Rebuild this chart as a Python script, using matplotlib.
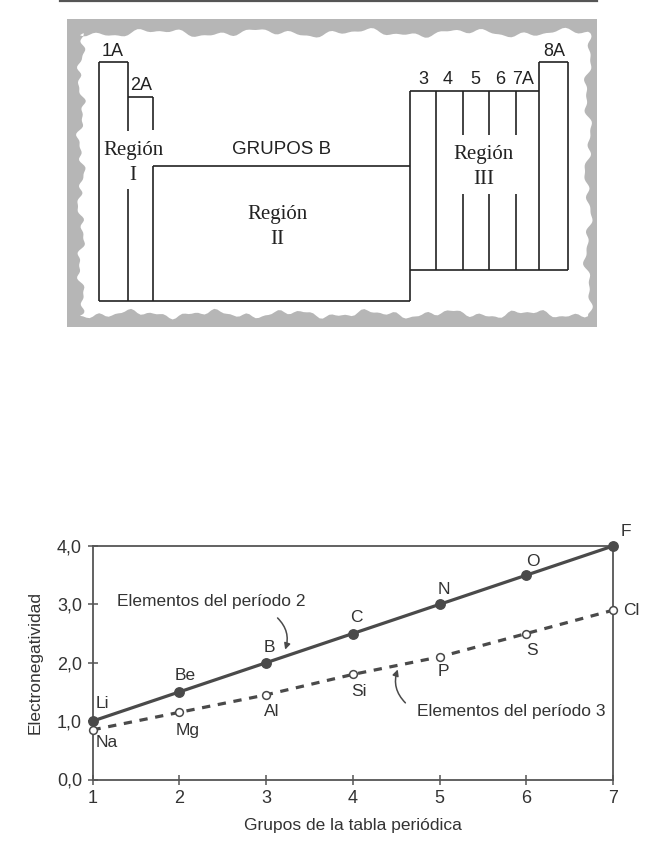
import numpy as np
import matplotlib
matplotlib.use("Agg")
import matplotlib.pyplot as plt

plt.rcParams['font.family'] = ['Liberation Sans', 'DejaVu Sans']

# chart data: electronegativity by group, periods 2 and 3
groups = [1, 2, 3, 4, 5, 6, 7]
period2_names = ['Li', 'Be', 'B', 'C', 'N', 'O', 'F']
period2_en = [1.0, 1.5, 2.0, 2.5, 3.0, 3.5, 4.0]
period3_names = ['Na', 'Mg', 'Al', 'Si', 'P', 'S', 'Cl']
period3_en = [0.85, 1.15, 1.45, 1.8, 2.1, 2.5, 2.9]
y_ticks = [0, 1, 2, 3, 4]
y_tick_labels = ['0,0', '1,0', '2,0', '3,0', '4,0']

# label offsets (pixels) for the element names
p2_offsets = [(10, 18), (6, 16), (3, 15), (4, 16), (4, 15), (7, 14), (13, 14)]
p3_offsets = [(14, -13), (8, -18), (6, -17), (6, -17), (4, -15), (6, -17), (18, 0)]

# table diagram labels
top_numbers = ['3', '4', '5', '6', '7A']
top_numbers_x = [423, 448, 475, 500, 523]

W, H = 658, 848
fig = plt.figure(figsize=(W / 100, H / 100), dpi=100)

# ---- periodic table sketch (pixel space) ----
ax0 = fig.add_axes([0, 0, 1, 1])
ax0.set_xlim(0, W)
ax0.set_ylim(H, 0)
ax0.axis('off')

ax0.plot([60, 597], [1, 1], color='#555555', lw=1.6)

# torn gray frame
gray = '#b6b6b6'
ax0.add_patch(plt.Rectangle((67, 19), 530, 308, color=gray, lw=0))
t = np.linspace(0, 1, 160)
def wob(k):
    return 2.5 * np.sin(k * 31 * t) + 1.8 * np.sin(k * 83 * t + 1.3) + 1.2 * np.sin(k * 149 * t + 0.4)
top = np.column_stack([80 + 508 * t, 33 + wob(1.0)])
right = np.column_stack([588 + wob(0.7), 33 + 281 * t])
bot = np.column_stack([588 - 508 * t, 314 + wob(1.3)])
left = np.column_stack([81 + wob(0.9), 314 - 281 * t])
inner = np.vstack([top, right, bot, left])
ax0.add_patch(plt.Polygon(inner, closed=True, color='white', lw=0))

lc = '#222222'
lw = 1.2
segs = [
    # 1A / 2A columns
    ([99, 99], [62, 301]), ([99, 127.5], [62, 62]),
    ([127.5, 127.5], [62, 131]), ([127.5, 127.5], [189, 301]),
    ([127.5, 153], [96.5, 96.5]),
    ([153, 153], [96.5, 130]), ([153, 153], [166, 301]),
    ([99, 410], [301, 301]),
    # region II
    ([153, 410], [166, 166]),
    # region III
    ([410, 410], [91, 301]), ([410, 539], [91, 91]), ([410, 568], [270, 270]),
    ([436, 436], [91, 270]),
    ([539, 539], [62, 270]), ([539, 568], [62, 62]), ([568, 568], [62, 270]),
]
for xs in [462.5, 488.5, 515.5]:
    segs.append(([xs, xs], [91, 135]))
    segs.append(([xs, xs], [194, 270]))
for xs, ys in segs:
    ax0.plot(xs, ys, color=lc, lw=lw, solid_capstyle='butt')

sans = dict(fontsize=13, color='#222222', ha='center', va='center')
serif = dict(fontsize=15, color='#222222', ha='center', va='center', family='Liberation Serif')
ax0.text(113, 51, '1A', **sans)
ax0.text(141, 85, '2A', **sans)
ax0.text(554, 52, '8A', **sans)
for lab, xx in zip(top_numbers, top_numbers_x):
    ax0.text(xx, 80, lab, **sans)
ax0.text(282, 150, 'GRUPOS B', fontsize=13.5, color='#222222', ha='center', va='center')
ax0.text(133, 150, 'Región', **serif)
ax0.text(133, 175, 'I', **serif)
ax0.text(277, 215, 'Región', **serif)
ax0.text(277, 239, 'II', **serif)
ax0.text(484, 155, 'Región', **serif)
ax0.text(484, 179, 'III', **serif)

# ---- electronegativity chart ----
x0, x1 = 92.5, 613
y_top, y_bot = 546, 779.5
ax = fig.add_axes([x0 / W, (H - y_bot) / H, (x1 - x0) / W, (y_bot - y_top) / H])
ax.set_xlim(1, 7)
ax.set_ylim(0, 4)
ax.patch.set_alpha(0)

dark = '#4a4a4a'
txt = '#333333'
ax.plot(groups, period2_en, color=dark, lw=2.3, zorder=3)
ax.plot(groups, period2_en, 'o', color=dark, ms=6.8, zorder=4, clip_on=False)
ax.plot(groups, period3_en, color=dark, lw=2.3, dashes=(2.6, 2.4), zorder=3)
ax.plot(groups, period3_en, 'o', mfc='white', mec=dark, mew=1.1, ms=5.6, zorder=5, clip_on=False)

for g, v, name, off in zip(groups, period2_en, period2_names, p2_offsets):
    ax.annotate(name, (g, v), xytext=off, textcoords='offset pixels',
                ha='center', va='center', fontsize=12.5, color=txt)
for g, v, name, off in zip(groups, period3_en, period3_names, p3_offsets):
    ax.annotate(name, (g, v), xytext=off, textcoords='offset pixels',
                ha='center', va='center', fontsize=12.5, color=txt)

ax.text(2.37, 3.05, 'Elementos del período 2', ha='center', va='center', fontsize=12.5, color=txt)
ax.annotate('', xy=(3.21, 2.18), xytext=(3.11, 2.8),
            arrowprops=dict(arrowstyle='-|>', color=dark, lw=1.1, mutation_scale=9,
                            connectionstyle='arc3,rad=-0.35'))
ax.text(5.83, 1.16, 'Elementos del período 3', ha='center', va='center', fontsize=12.5, color=txt)
ax.annotate('', xy=(4.53, 1.93), xytext=(4.63, 1.28),
            arrowprops=dict(arrowstyle='-|>', color=dark, lw=1.1, mutation_scale=9,
                            connectionstyle='arc3,rad=-0.35'))

ax.set_xticks(groups)
ax.set_xticklabels([str(g) for g in groups])
ax.set_yticks(y_ticks)
ax.set_yticklabels(y_tick_labels)
ax.tick_params(direction='inout', length=7, width=1.1, color='#555555',
               labelsize=13, labelcolor=txt, pad=4)
for s in ax.spines.values():
    s.set_color('#555555')
    s.set_linewidth(1.3)

ax.set_xlabel('Grupos de la tabla periódica', fontsize=12.5, color=txt, labelpad=8)
ax.set_ylabel('Electronegatividad', fontsize=12.5, color=txt, labelpad=10)

fig.savefig('out.png', dpi=100)
